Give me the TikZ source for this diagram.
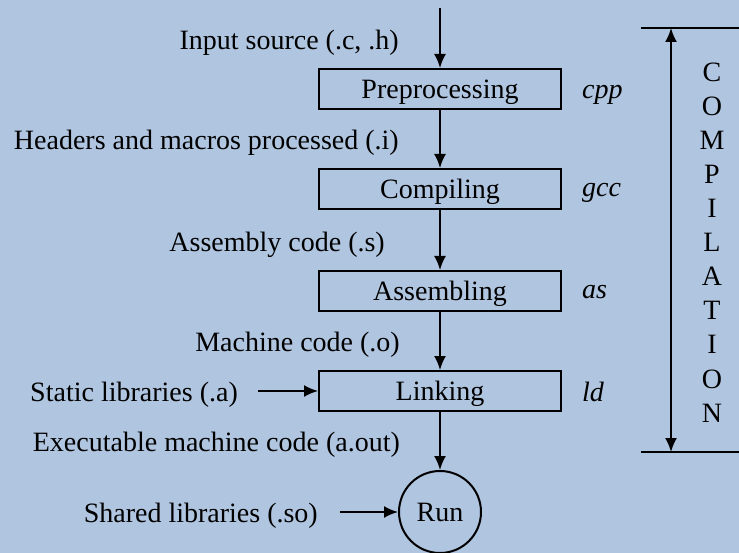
\documentclass[tikz,border=0pt]{standalone}
\usepackage{fontspec}
\setmainfont{Liberation Serif}
\usetikzlibrary{arrows.meta}
\definecolor{bg}{RGB}{176,197,223}
\begin{document}
\begin{tikzpicture}[x=1pt,y=-1pt,
  every node/.style={font=\fontsize{28}{32}\selectfont},
  proc/.style={draw,line width=2pt,minimum width=242pt,minimum height=40pt,inner sep=0pt,text depth=0pt},
  lbl/.style={anchor=east,inner sep=0pt,text depth=0pt},
  tool/.style={anchor=west,inner sep=0pt,text depth=0pt,font=\fontsize{28}{32}\selectfont\itshape},
  arr/.style={line width=2pt,-{Latex[length=14pt,width=12pt]}},
  dbl/.style={line width=2pt,{Latex[length=14pt,width=12pt]}-{Latex[length=14pt,width=12pt]}},
  ln/.style={line width=2pt}]
\fill[bg] (0,0) rectangle (739,553);
\useasboundingbox (0,0) rectangle (739,553);
\coordinate (top) at (440,8);
\node[proc] (pre) at (440,89) {Preprocessing};
\node[proc] (cmp) at (440,189) {Compiling};
\node[proc] (asm) at (440,291) {Assembling};
\node[proc] (lnk) at (440,391) {Linking};
\node[draw,circle,line width=2pt,minimum size=82pt,inner sep=0pt,text depth=0pt] (run) at (440,512) {Run};
\node[lbl] (l1) at (399,40) {Input source (.c, .h)};
\node[lbl] (l2) at (399,140) {Headers and macros processed (.i)};
\node[lbl] (l3) at (385,242) {Assembly code (.s)};
\node[lbl] (l4) at (400,342) {Machine code (.o)};
\node[lbl] (l5) at (400,442) {Executable machine code (a.out)};
\node[lbl] (sta) at (238,392) {Static libraries (.a)};
\node[lbl] (sha) at (318,513) {Shared libraries (.so)};
\node[tool] (t1) at (582,92) {cpp};
\node[tool] (t2) at (582,190) {gcc};
\node[tool] (t3) at (582,292) {as};
\node[tool] (t4) at (582,392) {ld};
\draw[arr] (top) -- (pre);
\draw[arr] (pre) -- (cmp);
\draw[arr] (cmp) -- (asm);
\draw[arr] (asm) -- (lnk);
\draw[arr] (lnk) -- (run);
\coordinate (s0) at (258,391);
\coordinate (s1) at (340,512);
\draw[arr] (s0) -- (lnk.west);
\draw[arr] (s1) -- (run.west);
\coordinate (ta) at (641,28);
\coordinate (tb) at (739,28);
\coordinate (ba) at (641,452);
\coordinate (bb) at (739,452);
\draw[ln] (ta) -- (tb);
\draw[ln] (ba) -- (bb);
\coordinate (da) at (671,28);
\coordinate (db) at (671,452);
\draw[dbl] (da) -- (db);
\foreach \c [count=\i from 0] in {C,O,M,P,I,L,A,T,I,O,N}
  \node[inner sep=0pt,text depth=0pt] (c\i) at (712,{72+34.1*\i}) {\c};
\end{tikzpicture}
\end{document}
